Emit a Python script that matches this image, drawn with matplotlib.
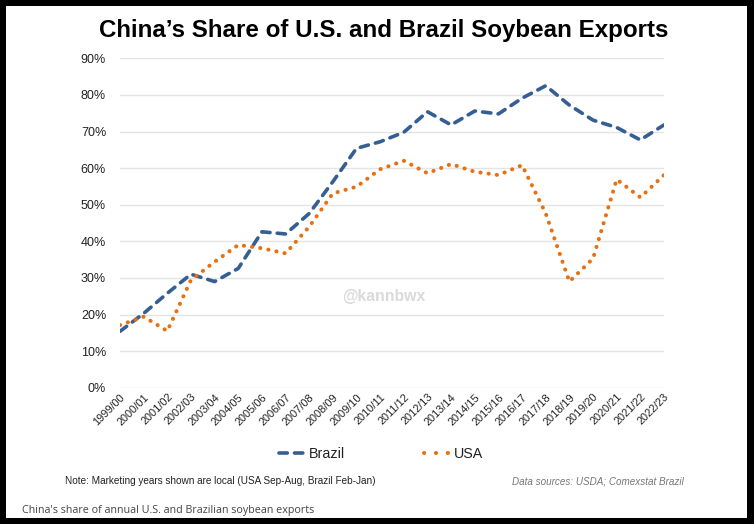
import matplotlib.pyplot as plt
from matplotlib.lines import Line2D
from matplotlib.patches import Rectangle
from matplotlib.ticker import PercentFormatter

years = ['1999/00', '2000/01', '2001/02', '2002/03', '2003/04', '2004/05',
         '2005/06', '2006/07', '2007/08', '2008/09', '2009/10', '2010/11',
         '2011/12', '2012/13', '2013/14', '2014/15', '2015/16', '2016/17',
         '2017/18', '2018/19', '2019/20', '2020/21', '2021/22', '2022/23']
brazil = [15.4, 20.3, 25.8, 31.0, 29.0, 32.6, 42.6, 42.0, 47.6, 56.3, 65.4, 67.2,
          69.8, 75.4, 71.8, 75.6, 74.8, 79.1, 82.5, 77.2, 73.1, 71.1, 67.7, 71.8]
usa = [17.1, 19.4, 15.5, 29.4, 34.4, 39.0, 38.1, 36.7, 44.0, 53.1, 54.9, 59.7,
       62.0, 58.6, 61.1, 59.0, 58.1, 60.8, 47.6, 29.0, 35.3, 56.9, 52.0, 58.1]
yticks = [0, 10, 20, 30, 40, 50, 60, 70, 80, 90]

plt.rcParams['font.family'] = ['Liberation Sans', 'DejaVu Sans']

fig = plt.figure(figsize=(7.54, 5.24), dpi=100, facecolor='black')
W, H = 754, 524
# white card on the black screenshot background
fig.patches.append(Rectangle((6 / W, 6 / H), (747 - 6) / W, (518 - 6) / H,
                             transform=fig.transFigure, facecolor='white',
                             edgecolor='none', zorder=-10))

ax = fig.add_axes([120 / W, 1 - 387.7 / H, (664 - 120) / W, (387.7 - 58.3) / H])
ax.set_facecolor('none')
x = list(range(len(years)))

br_line, = ax.plot(x, brazil, color='#355E92', lw=2.6, dashes=(2.3, 2.0),
                   dash_capstyle='round', label='Brazil', zorder=3)
ax.plot(x, usa, color='#E8700E', lw=2.9, dashes=(0.05, 2.0),
        dash_capstyle='round', zorder=3)

ax.set_xlim(0, len(years) - 1)
ax.set_ylim(0, 90)
ax.set_yticks(yticks)
ax.yaxis.set_major_formatter(PercentFormatter(decimals=0))
ax.set_xticks(x)
ax.set_xticklabels(years, rotation=45, ha='right', va='top',
                   rotation_mode='anchor', fontsize=7.9, color='#222222')
ax.tick_params(axis='y', length=0, pad=10, labelsize=9, labelcolor='#222222')
ax.tick_params(axis='x', length=0, pad=3)
ax.grid(axis='y', color='#e4e4e4', lw=1)
ax.set_axisbelow(True)
for s in ax.spines.values():
    s.set_visible(False)

fig.text(384 / W, 1 - 30 / H, 'China\u2019s Share of U.S. and Brazil Soybean Exports',
         ha='center', va='center', fontsize=17.4, fontweight='bold', color='black')
fig.text(384 / W, 1 - 297 / H, '@kannbwx', ha='center', va='center',
         fontsize=11.4, fontweight='bold', color='#dadada')

# legend proxy so the dotted key shows three dots like the original
usa_key = Line2D([], [], color='#E8700E', lw=2.9, dashes=(0.05, 2.9),
                 dash_capstyle='round')
leg = fig.legend([br_line, usa_key], ['Brazil', 'USA'], loc='center',
                 bbox_to_anchor=(381 / W, 1 - 454 / H), ncol=2,
                 frameon=False, fontsize=10.3, handlelength=1.95,
                 columnspacing=5.5, handletextpad=0.15)
for t in leg.get_texts():
    t.set_color('#222222')

fig.text(65 / W, 1 - 481 / H,
         'Note: Marketing years shown are local (USA Sep-Aug, Brazil Feb-Jan)',
         ha='left', va='center', fontsize=7.2, color='#222222')
fig.text(684 / W, 1 - 481 / H, 'Data sources: USDA; Comexstat Brazil',
         ha='right', va='center', fontsize=7.15, style='italic', color='#777777')
fig.text(22 / W, 1 - 511 / H,
         "China's share of annual U.S. and Brazilian soybean exports",
         ha='left', va='center', fontsize=7.75, color='#444444',
         family=['Open Sans', 'DejaVu Sans'])

fig.savefig('out.png', dpi=100, facecolor='black')
